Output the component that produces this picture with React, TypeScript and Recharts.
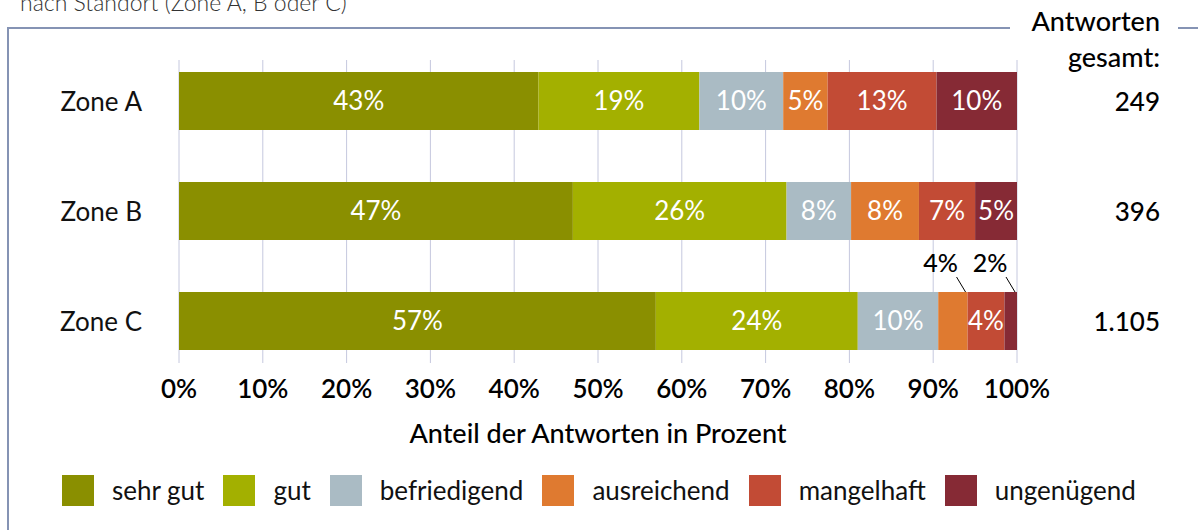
import React from "react";
import {
  BarChart,
  Bar,
  XAxis,
  YAxis,
  CartesianGrid,
  LabelList,
  Legend,
  Label,
} from "recharts";

const zones = ["Zone A", "Zone B", "Zone C"];
const sehrGut = [42.9, 47.0, 56.9];
const gut = [19.2, 25.5, 24.1];
const befriedigend = [10.0, 7.7, 9.6];
const ausreichend = [5.3, 8.1, 3.5];
const mangelhaft = [13.0, 6.7, 4.4];
const ungenuegend = [9.6, 5.0, 1.5];
const totals = ["249", "396", "1.105"];
const xTicks = [0, 10, 20, 30, 40, 50, 60, 70, 80, 90, 100];

const seriesKeys = ["sehrGut", "gut", "befriedigend", "ausreichend", "mangelhaft", "ungenuegend"];
const seriesNames = ["sehr gut", "gut", "befriedigend", "ausreichend", "mangelhaft", "ungenügend"];
const seriesColors = ["#8a8f00", "#a3b000", "#aabbc4", "#df7a30", "#c24b35", "#862a35"];
const seriesValues = [sehrGut, gut, befriedigend, ausreichend, mangelhaft, ungenuegend];

const data = zones.map((zone, i) => {
  const row: Record<string, string | number> = { zone };
  seriesKeys.forEach((k, s) => {
    row[k] = seriesValues[s][i];
  });
  return row;
});

const FONT = "Lato, 'Open Sans', sans-serif";
const FS = 25;
const W = 1198;
const H = 530;
const TOTAL_X = 1160;
const ZONE_X = 142;

const renderBarLabel = (props: any) => {
  const { x, y, width, height, value } = props;
  const txt = `${Math.round(Number(value))}%`;
  if (width < 33) {
    const r = x + width;
    return (
      <g>
        <line x1={r - 11} y1={y - 15} x2={r - 2} y2={y} stroke="#000" strokeWidth={1} />
        <text x={r - 27} y={y - 20} textAnchor="middle" fontFamily={FONT} fontSize={FS} fontWeight={500} fill="#000">
          {txt}
        </text>
      </g>
    );
  }
  return (
    <text x={x + width / 2} y={y + height / 2} dy="0.36em" textAnchor="middle" fontFamily={FONT} fontSize={26} fill="#fff">
      {txt}
    </text>
  );
};

const ZoneTick = (props: any) => {
  const { y, payload } = props;
  return (
    <text x={ZONE_X} y={y} dy="0.38em" textAnchor="end" fontFamily={FONT} fontSize={26} fill="#111">
      {payload.value}
    </text>
  );
};

const TotalTick = (props: any) => {
  const { y, payload } = props;
  const idx = zones.indexOf(payload.value);
  return (
    <text x={TOTAL_X} y={y} dy="0.38em" textAnchor="end" fontFamily={FONT} fontSize={26} fontWeight={500} fill="#000">
      {totals[idx]}
    </text>
  );
};

const gridLine = (p: any) => (
  <line
    key={`g-${p.index ?? p.x1}`}
    x1={p.x1}
    x2={p.x2}
    y1={p.y1 + 14}
    y2={p.y2 - 13}
    stroke="#c5c8de"
    strokeWidth={1}
  />
);

const LegendContent = (props: any) => {
  const payload = [...(props.payload || [])].sort(
    (a: any, b: any) => seriesNames.indexOf(a.value) - seriesNames.indexOf(b.value)
  );
  return (
    <div style={{ display: "flex", alignItems: "center", fontFamily: FONT, fontSize: 26, color: "#111" }}>
      {payload.map((entry: any, i: number) => (
        <div key={i} style={{ display: "flex", alignItems: "center", marginRight: 19 }}>
          <div style={{ width: 32, height: 31, background: entry.color, marginRight: 18 }} />
          <span>{entry.value}</span>
        </div>
      ))}
    </div>
  );
};

export default function App() {
  return (
    <div style={{ position: "absolute", left: 0, top: 0, width: W, height: H, background: "#fff", overflow: "hidden", fontFamily: FONT }}>
      <div style={{ position: "absolute", left: 20, top: -12, fontSize: 23, color: "#333", whiteSpace: "nowrap", fontWeight: 300 }}>
        nach Standort (Zone A, B oder C)
      </div>
      <div style={{ position: "absolute", left: 7, top: 27, width: 1003, height: 1.5, background: "#8593b4" }} />
      <div style={{ position: "absolute", left: 1178, top: 27, width: 20, height: 1.5, background: "#8593b4" }} />
      <div style={{ position: "absolute", left: 7, top: 27, width: 1.5, height: H, background: "#8593b4" }} />
      <div
        style={{
          position: "absolute",
          right: W - TOTAL_X,
          top: 3,
          textAlign: "right",
          fontSize: 27,
          fontWeight: 500,
          lineHeight: "36px",
          color: "#000",
        }}
      >
        Antworten
        <br />
        gesamt:
      </div>
      <div style={{ position: "absolute", left: 0, top: 0 }}>
        <BarChart
          width={W}
          height={H}
          data={data}
          layout="vertical"
          margin={{ top: 46, right: 38, left: 0, bottom: 74 }}
          barSize={58}
        >
          <CartesianGrid horizontal={false} vertical={gridLine} />
          <XAxis
            type="number"
            domain={[0, 100]}
            ticks={xTicks}
            tickFormatter={(v: number) => `${v}%`}
            axisLine={false}
            tickLine={false}
            tickSize={0}
            tickMargin={4}
            height={80}
            interval={0}
            tick={{ fontFamily: FONT, fontSize: 26, fontWeight: 600, fill: "#000" }}
          >
            <Label
              value="Anteil der Antworten in Prozent"
              position="insideBottom"
              offset={13}
              style={{ fontFamily: FONT, fontSize: 27, fontWeight: 500, fill: "#000" }}
            />
          </XAxis>
          <YAxis type="category" dataKey="zone" width={179} axisLine={false} tickLine={false} tick={<ZoneTick />} />
          <YAxis
            yAxisId="right"
            orientation="right"
            type="category"
            dataKey="zone"
            width={143}
            axisLine={false}
            tickLine={false}
            tick={<TotalTick />}
          />
          <Legend
            layout="horizontal"
            verticalAlign="middle"
            align="center"
            wrapperStyle={{ top: 474, left: 62, width: 1130, height: 34 }}
            content={<LegendContent />}
          />
          {seriesKeys.map((k, s) => (
            <Bar key={k} dataKey={k} name={seriesNames[s]} stackId="a" fill={seriesColors[s]} isAnimationActive={false}>
              <LabelList dataKey={k} content={renderBarLabel} />
            </Bar>
          ))}
        </BarChart>
      </div>
    </div>
  );
}
